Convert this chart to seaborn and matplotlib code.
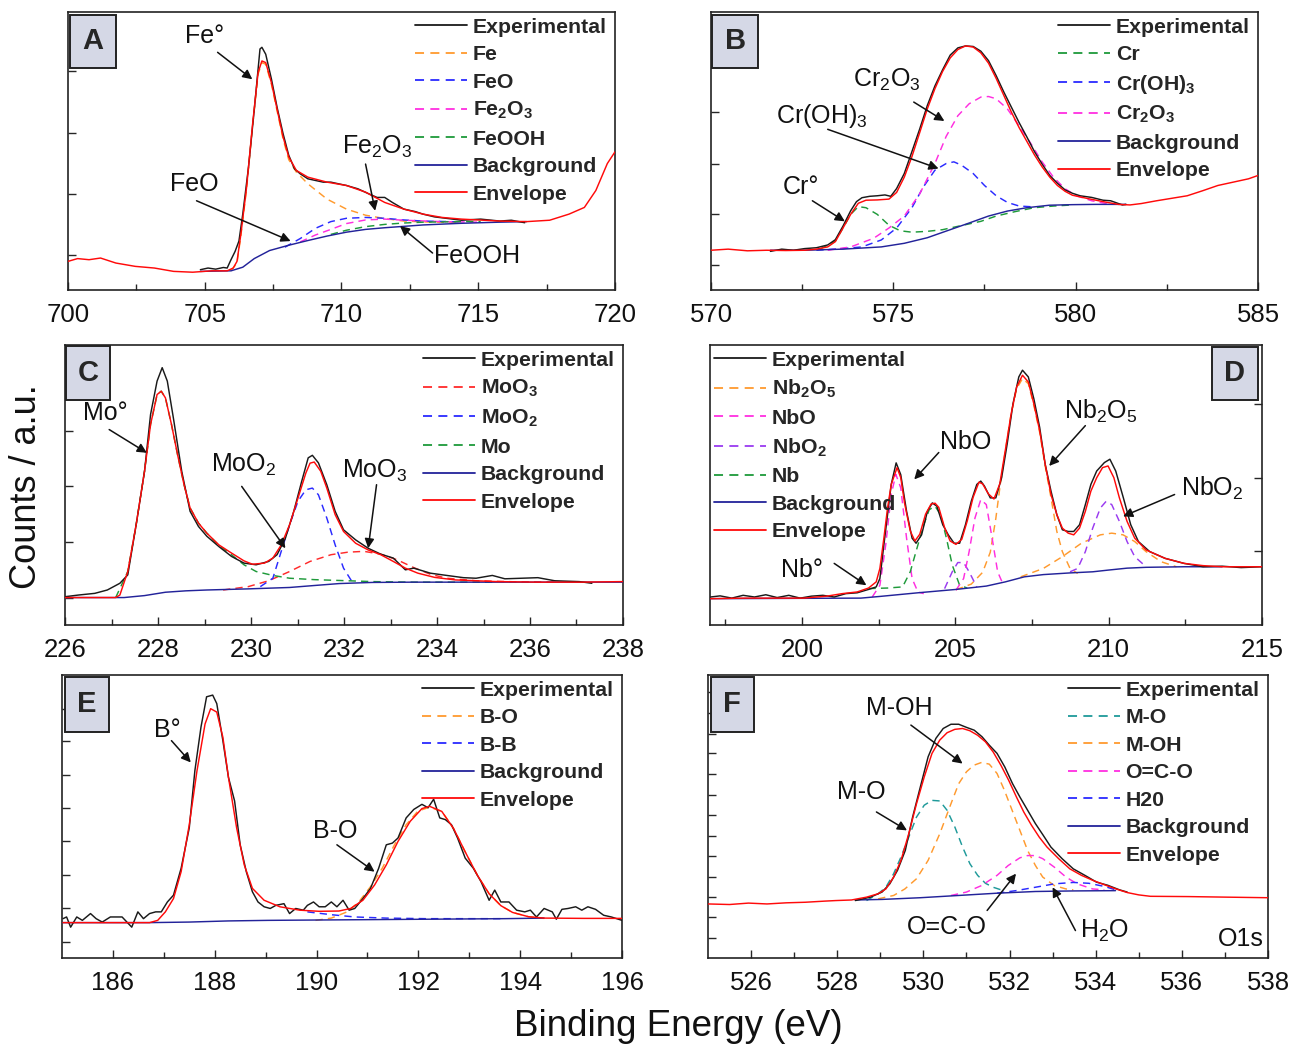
import matplotlib
matplotlib.use("Agg")
import matplotlib.pyplot as plt
from matplotlib.patches import Rectangle
from matplotlib.lines import Line2D
import seaborn as sns
import pandas as pd

sns.set_theme(style="ticks")
plt.rcParams["font.family"] = ["Liberation Sans", "DejaVu Sans"]
plt.rcParams["mathtext.fontset"] = "custom"
plt.rcParams["mathtext.rm"] = "Liberation Sans"
plt.rcParams["mathtext.it"] = "Liberation Sans:italic"
plt.rcParams["mathtext.bf"] = "Liberation Sans:bold"

# ---------------- DATA (x: binding energy eV, y: counts a.u.) ----------------
# Panel A : Fe 2p
A_EXP = [(704.84, 7.3), (705.12, 7.9), (705.40, 7.5), (705.68, 8.1), (705.82, 7.9), (705.96, 10.9),
         (706.11, 13.9), (706.25, 17.6), (706.39, 27.3), (706.60, 44.2), (706.81, 64.8), (707.02, 86.7),
         (707.09, 87.3), (707.23, 84.8), (707.44, 75.8), (707.65, 65.5), (707.86, 56.4), (708.07, 48.5),
         (708.28, 43.6), (708.49, 41.8), (708.77, 40.0), (709.05, 39.4), (709.33, 38.8), (709.61, 38.8),
         (709.89, 38.2), (710.18, 37.6), (710.60, 36.4), (711.02, 34.5), (711.30, 33.3), (711.58, 33.3),
         (711.86, 31.5), (712.28, 29.1), (712.70, 28.2), (712.98, 27.3), (713.40, 26.3), (713.82, 25.8),
         (714.39, 25.1), (715.09, 25.5), (715.79, 24.8), (716.21, 25.1), (716.70, 24.2)]
A_ENV = [(700.0, 10.3), (700.35, 11.3), (700.77, 10.9), (701.19, 11.5), (701.75, 9.7), (702.46, 8.5),
         (703.16, 7.9), (703.86, 6.7), (704.56, 6.4), (705.26, 6.9), (705.82, 6.9), (706.04, 7.9),
         (706.18, 10.3), (706.32, 20.0), (706.53, 37.0), (706.74, 58.8), (706.95, 78.2), (707.09, 82.4),
         (707.23, 81.8), (707.44, 74.5), (707.65, 64.8), (707.86, 55.2), (708.07, 47.9), (708.35, 43.0),
         (708.77, 40.6), (709.47, 38.8), (710.18, 37.6), (710.88, 35.2), (711.58, 31.5), (712.28, 29.1),
         (712.98, 27.3), (713.68, 26.1), (714.39, 25.5), (715.79, 24.8), (716.77, 24.6), (717.61, 25.1),
         (718.32, 27.3), (718.88, 29.7), (719.30, 35.8), (719.72, 45.5), (720.0, 49.7)]
A_FE = [(705.96, 6.9), (706.18, 9.7), (706.32, 19.4), (706.53, 36.4), (706.74, 58.2), (706.95, 77.6),
        (707.09, 81.8), (707.23, 81.2), (707.44, 73.9), (707.65, 64.2), (707.86, 54.5), (708.07, 46.9),
        (708.35, 42.4), (708.77, 38.2), (709.47, 32.7), (710.18, 29.1), (710.88, 26.9), (711.58, 25.7),
        (712.28, 24.8), (712.98, 24.5), (714.39, 24.2)]
A_FEO = [(707.93, 15.4), (708.49, 18.5), (709.05, 22.2), (709.61, 24.6), (710.18, 25.8), (710.88, 26.1),
         (711.58, 25.8), (712.28, 25.2), (712.98, 24.8), (714.39, 24.5)]
A_FE2O3 = [(708.49, 17.3), (709.05, 19.8), (709.61, 21.8), (710.18, 23.9), (710.88, 25.2), (711.58, 25.5),
           (712.28, 25.1), (713.68, 24.6), (715.09, 24.4)]
A_FEOOH = [(709.61, 20.0), (710.18, 21.5), (710.88, 22.8), (711.58, 23.6), (712.28, 24.1), (712.98, 24.4),
           (714.39, 24.6), (715.09, 24.6)]
A_BG = [(704.84, 6.7), (705.96, 6.9), (706.39, 8.2), (706.81, 11.3), (707.37, 14.2), (708.07, 16.1),
        (708.77, 17.8), (709.47, 19.4), (710.18, 20.8), (710.88, 21.8), (711.58, 22.4), (712.28, 22.9),
        (712.98, 23.4), (714.39, 24.0), (715.79, 24.4), (716.77, 24.6)]
A_XTICKS = [700, 705, 710, 715, 720]
A_YTICKS = [12.7, 34.5, 56.4, 78.8]

# Panel B : Cr 2p
B_EXP = [(571.63, 13.9), (571.94, 14.7), (572.26, 14.3), (572.57, 14.9), (572.89, 15.2), (573.20, 16.2),
         (573.41, 18.1), (573.62, 23.0), (573.83, 28.5), (573.99, 31.8), (574.14, 33.2), (574.35, 33.7),
         (574.56, 33.9), (574.77, 34.2), (574.93, 33.7), (575.09, 36.5), (575.30, 41.9), (575.51, 49.8),
         (575.72, 57.8), (575.93, 66.3), (576.14, 73.4), (576.35, 79.2), (576.56, 84.5), (576.77, 87.1),
         (576.98, 87.8), (577.19, 87.6), (577.40, 85.9), (577.61, 82.5), (577.82, 77.1), (578.03, 71.2),
         (578.24, 65.7), (578.45, 60.2), (578.66, 55.1), (578.87, 49.8), (579.08, 45.3), (579.29, 41.2),
         (579.50, 38.4), (579.71, 36.0), (579.91, 34.8), (580.12, 33.9), (580.44, 33.3), (580.75, 32.3),
         (580.96, 32.1), (581.28, 30.6), (581.38, 30.8)]
B_ENV = [(570.0, 14.3), (570.47, 14.7), (571.0, 14.1), (571.52, 14.3), (572.05, 14.2), (572.57, 14.3),
         (572.89, 14.7), (573.2, 15.5), (573.41, 17.4), (573.62, 22.3), (573.83, 27.2), (574.04, 31.2),
         (574.25, 32.3), (574.56, 32.4), (574.88, 32.7), (575.09, 35.1), (575.30, 40.6), (575.51, 48.0),
         (575.72, 56.5), (575.93, 65.1), (576.14, 72.4), (576.35, 78.6), (576.56, 83.5), (576.77, 86.5),
         (576.98, 87.8), (577.19, 87.4), (577.40, 85.3), (577.61, 81.6), (577.82, 76.1), (578.03, 70.0),
         (578.24, 63.9), (578.45, 58.4), (578.66, 53.5), (578.87, 48.6), (579.08, 44.3), (579.29, 40.6),
         (579.50, 37.6), (579.71, 35.5), (579.91, 34.1), (580.33, 32.9), (580.75, 31.8), (581.17, 30.8),
         (581.49, 30.6), (581.80, 31.1), (582.22, 32.1), (582.64, 33.0), (583.06, 33.9), (583.48, 35.7),
         (583.90, 37.6), (584.32, 38.8), (584.74, 40.0), (585.0, 41.2)]
B_CR = [(572.99, 14.7), (573.41, 17.6), (573.62, 22.3), (573.83, 27.2), (574.04, 30.0), (574.25, 29.6),
        (574.56, 27.2), (574.88, 23.3), (575.19, 21.3), (575.51, 20.8), (575.93, 21.1), (576.35, 21.7),
        (576.77, 22.9), (577.40, 24.7), (577.82, 26.6), (578.34, 28.2), (578.86, 29.6), (579.39, 30.2),
        (579.91, 30.6)]
B_CROH = [(572.89, 14.3), (573.62, 14.9), (574.14, 15.5), (574.67, 18.0), (575.09, 22.3), (575.51, 29.6),
          (575.82, 37.0), (576.14, 43.1), (576.45, 45.5), (576.66, 46.1), (576.87, 44.9), (577.19, 41.9),
          (577.50, 37.6), (577.82, 33.9), (578.13, 31.5), (578.45, 30.2), (578.86, 29.9)]
B_CR2O3 = [(573.20, 14.3), (573.83, 15.5), (574.46, 18.6), (574.88, 22.3), (575.30, 26.6), (575.72, 34.5),
           (576.14, 45.5), (576.45, 55.3), (576.77, 62.7), (577.08, 67.0), (577.40, 69.4), (577.61, 69.6),
           (577.82, 68.8), (578.13, 65.1), (578.45, 59.0), (578.76, 52.9), (579.08, 46.1), (579.39, 40.6),
           (579.71, 36.4), (580.02, 33.9), (580.44, 32.1), (580.96, 30.8)]
B_BG = [(571.63, 14.3), (572.57, 14.3), (573.62, 14.7), (574.67, 15.5), (575.30, 16.8), (575.93, 18.8),
        (576.56, 21.7), (577.08, 24.1), (577.61, 26.6), (578.13, 28.4), (578.66, 29.6), (579.28, 30.5),
        (579.91, 30.7), (580.54, 30.8), (581.38, 30.8)]
B_XTICKS = [570, 575, 580, 585]
B_YTICKS = [9.1, 27.4, 45.5, 63.9]

# Panel C : Mo 3d
C_EXP = [(226.0, 10.1), (226.29, 10.7), (226.64, 11.3), (226.91, 12.5), (227.18, 14.9), (227.35, 17.9),
         (227.53, 35.8), (227.71, 54.9), (227.84, 75.2), (227.98, 87.1), (228.09, 91.9), (228.20, 87.1),
         (228.33, 74.0), (228.51, 54.9), (228.69, 40.6), (228.87, 35.2), (229.05, 31.7), (229.31, 28.0),
         (229.58, 24.5), (229.85, 22.1), (230.11, 21.5), (230.38, 22.7), (230.56, 25.1), (230.74, 31.0),
         (230.92, 40.6), (231.09, 51.3), (231.23, 59.7), (231.32, 60.6), (231.45, 57.9), (231.63, 50.1),
         (231.81, 40.6), (231.99, 34.0), (232.25, 30.4), (232.52, 27.4), (232.79, 25.3), (233.06, 23.9),
         (233.32, 19.7), (233.50, 20.3), (233.86, 18.5), (234.21, 17.7), (234.57, 16.9), (234.84, 16.7),
         (235.19, 17.7), (235.46, 16.5), (235.82, 16.7), (236.17, 16.9), (236.53, 15.8), (237.06, 15.5),
         (237.33, 14.9)]
C_ENV = [(226.0, 9.8), (226.37, 9.8), (226.82, 9.8), (227.09, 9.8), (227.18, 10.7), (227.35, 19.1),
         (227.53, 35.8), (227.71, 54.9), (227.84, 71.6), (227.98, 82.3), (228.07, 83.5), (228.16, 81.1),
         (228.29, 71.6), (228.42, 60.9), (228.56, 50.1), (228.69, 41.8), (228.87, 36.4), (229.05, 32.8),
         (229.31, 28.6), (229.58, 25.7), (229.85, 22.9), (230.03, 21.7), (230.29, 22.1), (230.47, 23.9),
         (230.65, 28.6), (230.83, 35.8), (231.01, 45.3), (231.18, 54.3), (231.27, 57.8), (231.36, 58.2),
         (231.50, 54.9), (231.63, 48.9), (231.81, 39.4), (231.99, 33.4), (232.25, 29.2), (232.52, 26.8),
         (232.79, 25.1), (233.06, 22.7), (233.32, 20.3), (233.59, 18.5), (233.95, 17.0), (234.39, 16.1),
         (235.28, 15.5), (236.17, 15.3), (237.06, 15.3), (238.0, 15.5)]
C_MOO3 = [(229.40, 12.5), (229.94, 13.7), (230.38, 15.8), (230.83, 19.1), (231.27, 22.7), (231.72, 25.1),
          (232.08, 26.0), (232.43, 26.3), (232.79, 25.3), (233.14, 23.3), (233.50, 20.5), (233.86, 18.1),
          (234.21, 16.7), (234.84, 15.8), (235.73, 15.4), (236.62, 15.3)]
C_MOO2 = [(230.20, 13.7), (230.47, 16.7), (230.65, 26.3), (230.83, 35.8), (231.01, 44.2), (231.18, 48.3),
          (231.32, 48.9), (231.45, 46.5), (231.63, 38.2), (231.81, 28.6), (231.99, 20.3), (232.16, 15.8)]
C_MO = [(227.09, 9.8), (227.35, 19.1), (227.53, 35.8), (227.71, 54.9), (227.84, 71.6), (227.98, 82.3),
        (228.07, 83.5), (228.16, 81.1), (228.29, 71.6), (228.42, 60.9), (228.56, 50.1), (228.69, 41.8),
        (228.87, 36.4), (229.05, 32.8), (229.31, 28.4), (229.58, 25.1), (229.85, 21.5), (230.11, 19.1),
        (230.47, 17.7), (230.83, 16.7), (231.36, 16.2), (231.90, 15.9), (232.61, 15.5), (233.50, 15.3),
        (235.28, 15.3)]
C_BG = [(226.0, 9.8), (227.27, 9.8), (227.71, 10.5), (228.16, 11.7), (228.60, 12.2), (229.05, 12.5),
        (229.94, 12.9), (230.83, 13.4), (231.36, 14.1), (231.90, 14.8), (232.61, 15.2), (233.50, 15.3),
        (238.0, 15.3)]
C_XTICKS = [226, 228, 230, 232, 234, 236, 238]
C_YTICKS = [9.6, 29.6, 49.5, 69.2]

# Panel D : Nb 3d
D_EXP = [(197.02, 10.0), (197.33, 10.4), (197.71, 9.6), (198.08, 10.6), (198.45, 10.0), (198.82, 10.8),
         (199.19, 9.8), (199.57, 10.6), (199.94, 9.6), (200.31, 10.3), (200.68, 10.6), (201.05, 10.0),
         (201.43, 11.2), (201.80, 11.5), (202.17, 12.7), (202.42, 13.6), (202.54, 16.6), (202.67, 28.6),
         (202.79, 39.4), (202.91, 50.2), (203.07, 57.9), (203.22, 53.7), (203.41, 40.6), (203.59, 31.0),
         (203.72, 29.2), (203.90, 32.2), (204.09, 40.6), (204.25, 43.6), (204.40, 42.4), (204.59, 35.8),
         (204.77, 32.2), (204.96, 29.2), (205.14, 29.2), (205.33, 35.8), (205.52, 44.2), (205.70, 50.2),
         (205.83, 51.4), (205.95, 49.6), (206.14, 45.4), (206.32, 45.4), (206.51, 52.6), (206.69, 64.6),
         (206.88, 79.0), (207.07, 88.6), (207.19, 91.0), (207.38, 88.6), (207.56, 80.8), (207.75, 70.6),
         (207.93, 57.4), (208.12, 47.8), (208.31, 39.4), (208.49, 34.0), (208.68, 33.4), (208.86, 33.4),
         (209.05, 35.8), (209.24, 43.0), (209.42, 50.2), (209.61, 55.0), (209.86, 58.0), (210.04, 59.2),
         (210.23, 55.0), (210.48, 45.4), (210.72, 35.8), (210.97, 29.8), (211.34, 26.2), (211.84, 23.8),
         (212.46, 22.0), (213.08, 20.8), (213.70, 21.0), (214.32, 20.5), (215.0, 20.8)]
D_ENV = [(197.02, 9.4), (198.14, 9.6), (199.38, 9.6), (200.06, 9.6), (200.81, 10.3), (201.31, 11.2),
         (201.80, 11.8), (202.17, 13.2), (202.42, 15.4), (202.54, 20.2), (202.67, 31.0), (202.79, 41.8),
         (202.91, 50.2), (203.10, 56.2), (203.22, 52.6), (203.35, 43.2), (203.53, 33.6), (203.68, 30.0),
         (203.84, 32.4), (204.03, 39.6), (204.21, 43.2), (204.34, 43.5), (204.46, 42.0), (204.65, 34.8),
         (204.83, 30.0), (205.02, 28.8), (205.21, 30.6), (205.39, 37.2), (205.58, 45.6), (205.77, 51.0),
         (205.89, 50.4), (206.08, 46.8), (206.26, 45.0), (206.45, 50.4), (206.63, 62.4), (206.82, 75.4),
         (207.00, 85.0), (207.19, 89.2), (207.38, 86.8), (207.56, 79.0), (207.75, 69.4), (207.93, 57.4),
         (208.12, 46.6), (208.31, 39.4), (208.49, 34.6), (208.68, 32.8), (208.86, 32.2), (209.05, 34.6),
         (209.24, 40.6), (209.42, 47.8), (209.61, 52.6), (209.80, 56.2), (209.98, 56.8), (210.17, 52.6),
         (210.35, 45.4), (210.60, 37.0), (210.85, 31.0), (211.22, 26.8), (211.84, 23.8), (212.46, 22.0),
         (213.08, 21.2), (213.70, 20.8), (215.0, 20.8)]
D_NB2O5_A = [(205.02, 12.6), (205.52, 14.6), (205.89, 18.8), (206.14, 26.0), (206.32, 38.0), (206.45, 48.9),
             (206.63, 62.2), (206.82, 75.4), (207.00, 84.4), (207.19, 88.0), (207.38, 86.2), (207.56, 78.4),
             (207.75, 68.8), (207.93, 56.8), (208.12, 45.4), (208.31, 33.4), (208.49, 26.2), (208.74, 20.2),
             (208.99, 18.4)]
D_NB2O5_B = [(207.13, 17.2), (207.87, 20.2), (208.49, 24.4), (209.11, 29.2), (209.73, 32.2), (210.10, 32.8),
             (210.47, 32.2), (210.85, 29.8), (211.22, 26.2), (211.71, 22.6), (212.21, 20.8)]
D_NBO_A = [(202.29, 10.0), (202.54, 14.2), (202.73, 28.6), (202.91, 46.6), (203.06, 53.8), (203.22, 49.0),
           (203.41, 31.0), (203.59, 16.6), (203.78, 11.8), (203.97, 11.2)]
D_NBO_B = [(205.02, 12.4), (205.27, 16.6), (205.45, 26.2), (205.64, 38.2), (205.83, 44.8), (206.01, 43.0),
           (206.20, 31.0), (206.38, 19.0), (206.57, 14.2)]
D_NBO2_A = [(204.65, 13.0), (204.90, 19.0), (205.08, 22.3), (205.27, 22.3), (205.45, 19.0), (205.70, 13.6)]
D_NBO2_B = [(208.74, 19.0), (208.99, 20.2), (209.24, 26.2), (209.48, 34.6), (209.73, 41.8), (209.92, 44.2),
            (210.10, 43.0), (210.35, 37.0), (210.60, 29.8), (210.85, 24.4), (211.22, 20.8)]
D_NB = [(202.17, 13.0), (202.79, 13.2), (203.28, 13.6), (203.53, 19.0), (203.78, 28.6), (203.97, 35.8),
        (204.15, 41.2), (204.34, 42.4), (204.52, 39.4), (204.71, 31.0), (204.90, 21.4), (205.14, 14.2),
        (205.39, 13.2)]
D_BG = [(197.02, 9.4), (201.92, 9.6), (202.54, 10.2), (203.78, 11.5), (205.02, 12.7), (206.01, 13.9),
        (206.63, 15.4), (207.25, 17.2), (207.87, 18.0), (208.74, 18.6), (209.48, 19.0), (209.98, 19.6),
        (210.60, 20.3), (211.22, 20.6), (212.46, 20.8), (213.70, 20.8)]
D_XTICKS = [200, 205, 210, 215]
D_YTICKS = [26.4, 52.6, 79.0]

# Panel E : B 1s
E_EXP = [(185.02, 13.9), (185.09, 14.5), (185.17, 10.9), (185.29, 14.5), (185.40, 13.3), (185.56, 15.7),
         (185.67, 13.9), (185.79, 12.7), (185.95, 14.5), (186.18, 14.5), (186.37, 10.9), (186.49, 16.3),
         (186.60, 13.9), (186.72, 15.7), (186.84, 16.3), (186.95, 16.3), (187.07, 19.8), (187.19, 22.2),
         (187.34, 31.7), (187.50, 46.0), (187.61, 66.2), (187.73, 81.6), (187.84, 92.3), (187.96, 92.9),
         (188.04, 89.9), (188.16, 76.8), (188.27, 63.8), (188.39, 55.5), (188.50, 40.0), (188.62, 30.5),
         (188.74, 23.4), (188.85, 19.8), (188.97, 18.1), (189.09, 17.5), (189.20, 18.6), (189.36, 19.2),
         (189.47, 15.7), (189.59, 17.5), (189.74, 16.9), (189.82, 18.6), (189.94, 19.8), (190.05, 18.1),
         (190.17, 18.1), (190.29, 19.8), (190.40, 18.1), (190.52, 20.4), (190.64, 16.9), (190.75, 17.5),
         (190.91, 21.0), (191.06, 24.6), (191.22, 31.7), (191.37, 40.0), (191.49, 40.6), (191.60, 42.4),
         (191.76, 49.5), (191.91, 52.5), (192.07, 54.3), (192.19, 53.1), (192.30, 56.1), (192.42, 49.5),
         (192.53, 48.9), (192.65, 47.1), (192.77, 42.4), (192.92, 35.3), (193.08, 31.7), (193.23, 27.0),
         (193.39, 20.4), (193.50, 24.0), (193.62, 19.8), (193.78, 19.8), (193.93, 16.9), (194.09, 16.3),
         (194.20, 16.9), (194.32, 14.5), (194.47, 17.5), (194.63, 16.3), (194.71, 13.7), (194.82, 17.2),
         (194.94, 17.5), (195.09, 18.1), (195.21, 16.9), (195.33, 18.1), (195.48, 17.2), (195.64, 15.1),
         (195.79, 14.5), (196.0, 13.3)]
E_ENV = [(185.02, 12.5), (185.56, 12.5), (186.33, 12.5), (186.72, 12.5), (186.88, 13.3), (187.03, 16.3),
         (187.19, 21.0), (187.34, 30.5), (187.50, 47.1), (187.65, 66.0), (187.81, 82.7), (187.92, 88.1),
         (188.04, 86.9), (188.16, 78.0), (188.27, 63.8), (188.43, 46.0), (188.58, 32.9), (188.74, 24.6),
         (188.97, 20.4), (189.28, 18.1), (189.67, 16.9), (190.05, 16.5), (190.44, 16.6), (190.67, 17.5),
         (190.91, 20.4), (191.14, 25.8), (191.37, 32.9), (191.60, 41.2), (191.84, 48.3), (192.07, 52.8),
         (192.22, 53.6), (192.46, 51.8), (192.69, 45.8), (192.92, 37.5), (193.16, 29.2), (193.39, 22.7),
         (193.62, 18.5), (193.85, 16.1), (194.16, 14.6), (194.47, 14.1), (195.25, 14.0), (196.0, 14.0)]
E_BO = [(189.98, 13.3), (190.29, 14.1), (190.60, 16.3), (190.83, 19.8), (191.06, 25.2), (191.29, 31.7),
        (191.53, 40.0), (191.76, 47.1), (191.99, 51.9), (192.22, 53.3), (192.46, 51.8), (192.69, 45.8),
        (192.92, 37.5), (193.16, 29.2), (193.39, 22.7), (193.62, 18.5), (193.85, 16.1), (194.16, 14.6),
        (194.47, 14.0)]
E_BB = [(189.82, 16.3), (190.29, 15.3), (190.75, 14.5), (191.37, 14.1), (192.15, 13.9), (192.92, 13.9),
        (193.70, 13.9)]
E_BG = [(185.02, 12.5), (186.72, 12.5), (187.50, 12.7), (188.27, 13.1), (189.05, 13.3), (190.60, 13.5),
        (192.15, 13.7), (193.70, 13.9), (194.47, 14.1)]
E_XTICKS = [186, 188, 190, 192, 194, 196]
E_YTICKS = [5.8, 17.7, 29.3, 41.2, 53.1, 64.7, 76.6, 88.1]

# Panel F : O 1s
F_EXP = [(528.42, 20.3), (528.77, 21.5), (529.04, 23.3), (529.22, 26.2), (529.40, 31.0), (529.58, 38.0),
         (529.75, 49.8), (529.93, 60.5), (530.11, 71.1), (530.29, 77.6), (530.46, 81.1), (530.64, 82.6),
         (530.82, 82.6), (531.00, 81.5), (531.18, 80.5), (531.36, 78.2), (531.53, 75.2), (531.71, 72.3),
         (531.89, 67.5), (532.07, 61.6), (532.24, 56.9), (532.42, 52.2), (532.60, 47.5), (532.78, 43.4),
         (532.96, 39.2), (533.22, 35.1), (533.48, 31.5), (533.75, 29.2), (534.02, 26.8), (534.28, 25.7),
         (534.55, 24.1), (534.73, 23.3)]
F_ENV = [(525.0, 19.1), (525.50, 18.9), (525.94, 19.4), (526.37, 19.1), (526.82, 19.5), (527.26, 19.7),
         (527.71, 20.1), (527.97, 20.3), (528.33, 20.5), (528.68, 21.5), (528.95, 22.7), (529.13, 24.4),
         (529.31, 28.6), (529.48, 34.5), (529.66, 43.9), (529.84, 54.5), (530.02, 64.0), (530.20, 72.3),
         (530.38, 77.0), (530.55, 79.6), (530.73, 80.8), (530.91, 81.1), (531.08, 80.3), (531.26, 78.7),
         (531.44, 76.4), (531.62, 72.8), (531.80, 68.1), (531.98, 62.8), (532.16, 56.9), (532.33, 51.6),
         (532.51, 46.9), (532.69, 42.7), (532.87, 39.2), (533.14, 35.1), (533.40, 31.5), (533.67, 29.2),
         (533.94, 27.4), (534.20, 25.9), (534.47, 24.4), (534.74, 23.1), (535.00, 22.3), (535.27, 21.8),
         (536.16, 21.7), (537.05, 21.5), (538.0, 21.3)]
F_MO = [(528.68, 20.3), (528.95, 22.7), (529.13, 25.0), (529.31, 29.8), (529.48, 35.7), (529.66, 42.7),
        (529.84, 49.8), (530.02, 54.0), (530.20, 55.7), (530.38, 55.5), (530.55, 52.2), (530.73, 46.3),
        (530.91, 39.2), (531.08, 33.3), (531.26, 29.2), (531.44, 26.4), (531.62, 25.0), (531.80, 24.1)]
F_MOH = [(528.95, 20.9), (529.31, 22.1), (529.57, 24.4), (529.84, 28.0), (530.11, 34.5), (530.38, 43.9),
         (530.64, 54.5), (530.82, 61.6), (531.00, 65.8), (531.17, 68.1), (531.35, 69.1), (531.53, 68.5),
         (531.71, 65.2), (531.88, 59.3), (532.06, 52.2), (532.24, 45.1), (532.42, 38.0), (532.60, 32.7),
         (532.77, 28.6), (533.04, 25.6), (533.31, 24.4), (533.48, 24.1)]
F_OCO = [(530.64, 22.1), (531.00, 23.3), (531.35, 25.6), (531.71, 29.2), (531.97, 32.7), (532.24, 35.4),
         (532.42, 36.2), (532.60, 36.2), (532.77, 35.1), (533.04, 32.1), (533.31, 28.6), (533.57, 26.2),
         (533.93, 24.4), (534.20, 24.1)]
F_H2O = [(531.71, 22.9), (532.15, 23.8), (532.60, 25.0), (533.04, 26.2), (533.48, 26.7), (533.84, 26.4),
         (534.20, 25.3), (534.46, 24.1)]
F_BG = [(528.42, 20.5), (529.04, 20.7), (529.93, 21.3), (530.82, 22.1), (531.71, 22.9), (532.60, 23.5),
        (533.48, 23.7), (534.46, 23.8)]
F_XTICKS = [526, 528, 530, 532, 534, 536, 538]
F_YTICKS = [6.97, 14.4, 21.5, 28.6, 35.9, 43.1, 50.4, 57.5, 64.9, 72.3, 79.3, 86.7, 94.1]

# ---------------- STYLE ----------------
C_EXP_COL = "#1a1a1a"
C_ENV_COL = "#ff0a0a"
C_BG_COL = "#23239a"
ORANGE = "#ff9a2e"
BLUE = "#2a2aff"
MAGENTA = "#ff2ee0"
GREEN = "#1e9a3a"
PURPLE = "#9a3af0"
TEAL = "#1f9a9a"
RED_D = "#ff2a2a"
DASH = (0, (5, 3.5))
LW = 1.05

fig = plt.figure(figsize=(12.89, 10.46), dpi=100)


def curve(ax, pts, color, dashed, label, z):
    df = pd.DataFrame(pts, columns=["x", "y"])
    sns.lineplot(data=df, x="x", y="y", ax=ax, color=color, lw=LW, sort=False,
                 estimator=None, linestyle=DASH if dashed else "-", zorder=z)
    ax.set_xlabel("")
    ax.set_ylabel("")
    return Line2D([0], [0], color=color, lw=1.3, linestyle=DASH if dashed else "-", label=label)


def panel(rect, xlim, xticks, minor_step, yticks, comps, exp, env, bg, legend_loc,
          box_rect, letter, yticks_right=False, extra=()):
    ax = fig.add_axes(rect)
    handles = {}
    for name, pts, col in comps:
        handles[name] = curve(ax, pts, col, True, name, 2)
    for pts, col in extra:
        curve(ax, pts, col, True, "_", 2)
    handles["Background"] = curve(ax, bg, C_BG_COL, False, "Background", 3)
    handles["Experimental"] = curve(ax, exp, C_EXP_COL, False, "Experimental", 4)
    handles["Envelope"] = curve(ax, env, C_ENV_COL, False, "Envelope", 5)
    ax.set_xlim(*xlim)
    ax.set_ylim(0, 100)
    ax.set_xticks(xticks)
    ax.set_xticklabels([str(t) for t in xticks])
    mt = []
    t = xticks[0] - minor_step
    while t < xlim[1]:
        if t > xlim[0] and all(abs(t - v) > 1e-6 for v in xticks):
            mt.append(t)
        t += minor_step
    ax.set_xticks(mt, minor=True)
    ax.set_yticks(yticks)
    ax.set_yticklabels([])
    ax.tick_params(axis="x", which="major", direction="in", length=6, width=1.0,
                   labelsize=18.5, pad=9.5, labelcolor="#111111")
    ax.tick_params(axis="x", which="minor", direction="in", length=4, width=1.0)
    if yticks_right:
        ax.tick_params(axis="y", which="both", direction="in", length=6, width=1.0,
                       left=False, right=True)
    else:
        ax.tick_params(axis="y", which="both", direction="in", length=6, width=1.0)
    for s in ax.spines.values():
        s.set_linewidth(1.2)
        s.set_color("#222222")
    order = ["Experimental"] + [c[0] for c in comps] + ["Background", "Envelope"]
    loc, anchor = legend_loc
    leg = ax.legend(handles=[handles[k] for k in order], loc=loc, bbox_to_anchor=anchor,
                    frameon=False, prop={"weight": "bold", "size": 15.3},
                    handlelength=2.45, handletextpad=0.25, labelspacing=0.4,
                    borderaxespad=0.0, borderpad=0.0)
    leg.set_zorder(6)
    ax.add_patch(Rectangle((box_rect[0], box_rect[1]), box_rect[2], box_rect[3],
                           transform=ax.transAxes, facecolor="#d5d8e6", edgecolor="#222222",
                           lw=1.4, zorder=7, clip_on=False))
    ax.text(box_rect[0] + box_rect[2] / 2, box_rect[1] + box_rect[3] / 2, letter,
            transform=ax.transAxes, ha="center", va="center", fontsize=21,
            fontweight="bold", zorder=8)
    return ax


def arrow(ax, label, text_xy, tail, head, fs=18):
    ax.text(text_xy[0], text_xy[1], label, ha="center", va="center", fontsize=fs,
            color="#111111", zorder=9)
    ax.annotate("", xy=head, xytext=tail,
                arrowprops=dict(arrowstyle="-|>", color="#111111", lw=1.1,
                                mutation_scale=14, shrinkA=0, shrinkB=0), zorder=9)


axA = panel([0.05275, 0.72275, 0.42436, 0.26577], (700, 720), A_XTICKS, 2.5, A_YTICKS,
            [("Fe", A_FE, ORANGE), ("FeO", A_FEO, BLUE), (r"$\mathbf{Fe_2O_3}$", A_FE2O3, MAGENTA),
             ("FeOOH", A_FEOOH, GREEN)],
            A_EXP, A_ENV, A_BG, ("upper right", (0.985, 0.98)), (0.004, 0.799, 0.084, 0.19), "A")
arrow(axA, "Fe°", (704.98, 91.5), (705.47, 85.5), (706.74, 75.8))
arrow(axA, "FeO", (704.63, 38.2), (704.70, 32.1), (708.14, 17.6))
arrow(axA, r"Fe$_2$O$_3$", (711.30, 51.5), (710.88, 45.3), (711.23, 28.5))
arrow(axA, "FeOOH", (714.95, 12.1), (713.33, 13.3), (712.14, 23.0))

axB = panel([0.55159, 0.72275, 0.42436, 0.26577], (570, 585), B_XTICKS, 2.5, B_YTICKS,
            [("Cr", B_CR, GREEN), (r"$\mathbf{Cr(OH)_3}$", B_CROH, BLUE),
             (r"$\mathbf{Cr_2O_3}$", B_CR2O3, MAGENTA)],
            B_EXP, B_ENV, B_BG, ("upper right", (0.985, 0.98)), (0.002, 0.799, 0.084, 0.19), "B")
arrow(axB, r"Cr$_2$O$_3$", (574.83, 75.5), (575.56, 67.6), (576.40, 60.8))
arrow(axB, r"Cr(OH)$_3$", (573.04, 62.5), (573.20, 57.8), (576.24, 43.7))
arrow(axB, "Cr°", (572.47, 37.0), (572.78, 32.1), (573.67, 24.7))

axC = panel([0.05043, 0.40249, 0.43289, 0.26769], (226, 238), C_XTICKS, 1.0, C_YTICKS,
            [(r"$\mathbf{MoO_3}$", C_MOO3, RED_D), (r"$\mathbf{MoO_2}$", C_MOO2, BLUE),
             ("Mo", C_MO, GREEN)],
            C_EXP, C_ENV, C_BG, ("upper right", (0.985, 0.98)), (0.002, 0.804, 0.079, 0.193), "C")
arrow(axC, "Mo°", (226.86, 75.8), (226.95, 69.8), (227.76, 61.5))
arrow(axC, r"MoO$_2$", (229.85, 57.0), (229.80, 49.5), (230.74, 27.4))
arrow(axC, r"MoO$_3$", (232.65, 55.2), (232.70, 50.1), (232.52, 27.4))

axD = panel([0.55081, 0.40249, 0.42824, 0.26769], (197.0, 215), D_XTICKS, 2.5, D_YTICKS,
            [(r"$\mathbf{Nb_2O_5}$", D_NB2O5_A, ORANGE), ("NbO", D_NBO_A, MAGENTA),
             (r"$\mathbf{NbO_2}$", D_NBO2_A, PURPLE), ("Nb", D_NB, GREEN)],
            D_EXP, D_ENV, D_BG, ("upper left", (0.008, 0.98)), (0.909, 0.804, 0.083, 0.19), "D",
            yticks_right=True,
            extra=[(D_NB2O5_B, ORANGE), (D_NBO_B, MAGENTA), (D_NBO2_B, PURPLE)])
arrow(axD, "NbO", (205.33, 65.2), (204.46, 61.6), (203.66, 52.0))
arrow(axD, r"Nb$_2$O$_5$", (209.73, 76.3), (209.24, 71.2), (208.06, 56.8))
arrow(axD, r"NbO$_2$", (213.39, 48.7), (212.15, 46.6), (210.47, 38.8))
arrow(axD, "Nb°", (200.0, 19.6), (201.05, 22.0), (202.10, 14.2))

axE = panel([0.0481, 0.08413, 0.43445, 0.27055], (185, 196), E_XTICKS, 1.0, E_YTICKS,
            [("B-O", E_BO, ORANGE), ("B-B", E_BB, BLUE)],
            E_EXP, E_ENV, E_BG, ("upper right", (0.985, 0.98)), (0.005, 0.799, 0.079, 0.194), "E")
arrow(axE, "B°", (187.07, 80.4), (187.15, 76.8), (187.53, 69.1))
arrow(axE, "B-O", (190.36, 44.8), (190.40, 40.0), (191.14, 30.5))

axF = panel([0.54926, 0.08413, 0.43445, 0.27055], (525, 538), F_XTICKS, 1.0, F_YTICKS,
            [("M-O", F_MO, TEAL), ("M-OH", F_MOH, ORANGE), ("O=C-O", F_OCO, MAGENTA),
             ("H20", F_H2O, BLUE)],
            F_EXP, F_ENV, F_BG, ("upper right", (0.985, 0.98)), (0.005, 0.799, 0.077, 0.194), "F")
arrow(axF, "M-OH", (529.44, 88.2), (529.71, 82.3), (530.91, 68.7))
arrow(axF, "M-O", (528.55, 58.7), (528.91, 51.6), (529.62, 45.1))
arrow(axF, "O=C-O", (530.55, 10.9), (531.48, 16.8), (532.15, 29.8))
arrow(axF, r"H$_2$O", (534.20, 9.7), (533.53, 9.7), (533.00, 25.0))
axF.text(537.9, 6.7, "O1s", ha="right", va="center", fontsize=18, color="#111111")

fig.text(0.0205, 0.5344, "Counts / a.u.", rotation=90, ha="center", va="center",
         fontsize=26, color="#111111")
fig.text(0.526, 0.0182, "Binding Energy (eV)", ha="center", va="center",
         fontsize=26.5, color="#111111")

fig.savefig("out.png", dpi=100)
